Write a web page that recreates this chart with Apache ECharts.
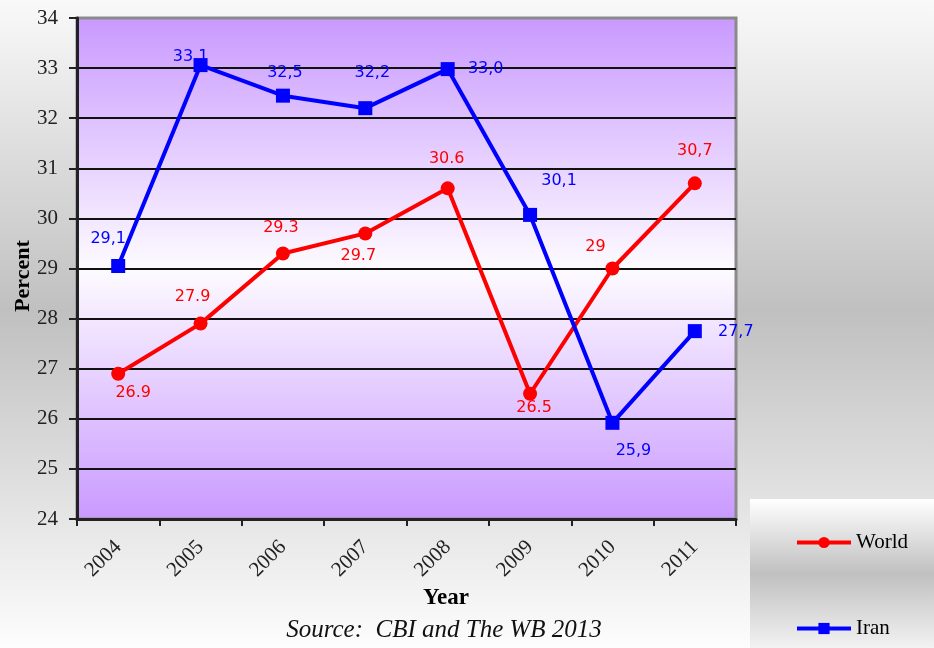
<!DOCTYPE html>
<html>
<head>
<meta charset="utf-8">
<script src="https://cdn.jsdelivr.net/npm/echarts@6/dist/echarts.min.js"></script>
<style>
  html, body { margin: 0; padding: 0; }
  #chart { width: 934px; height: 648px; }
</style>
</head>
<body>
<div id="chart"></div>
<script>
const categories = ['2004', '2005', '2006', '2007', '2008', '2009', '2010', '2011'];
const worldValues = [26.9, 27.9, 29.3, 29.7, 30.6, 26.5, 29.0, 30.7];
const iranValues = [29.05, 33.06, 32.45, 32.2, 32.98, 30.07, 25.92, 27.75];
const worldLabels = ['26.9', '27.9', '29.3', '29.7', '30.6', '26.5', '29', '30,7'];
const iranLabels = ['29,1', '33,1', '32,5', '32,2', '33,0', '30,1', '25,9', '27,7'];
const yTicks = { min: 24, max: 34, interval: 1 };

// label placement (style only)
const worldLabelOffsets = [[15, 19], [-8, -27], [-2, -26], [-7, 22], [-1, -29], [4, 14], [-17, -22], [0, -32]];
const iranLabelOffsets = [[-10, -27], [-10, -8], [2, -23], [7, -35], [38, 0], [29, -34], [21, 28], [41, 1]];

const serif = "'Liberation Serif', 'DejaVu Serif', serif";
const sans = "'DejaVu Sans', sans-serif";

function items(values, offsets) {
  return values.map((v, i) => ({ value: v, label: { offset: offsets[i] } }));
}

// split line colours: black grid lines, grey at the top edge
const tickCount = Math.round((yTicks.max - yTicks.min) / yTicks.interval) + 1;
const splitColors = Array.from({ length: tickCount }, (_, i) => (i === tickCount - 1 ? '#8a8a8a' : '#111'));

const chart = echarts.init(document.getElementById('chart'), null, { renderer: 'canvas' });

chart.setOption({
  animation: false,
  backgroundColor: {
    type: 'linear', x: 0, y: 0, x2: 0, y2: 1,
    colorStops: [
      { offset: 0, color: '#f9f9f9' },
      { offset: 0.48, color: '#c0c0c0' },
      { offset: 1, color: '#fdfdfd' }
    ]
  },
  grid: {
    left: 77, right: 198, top: 18, bottom: 129,
    show: true,
    borderColor: '#8a8a8a',
    borderWidth: 3,
    backgroundColor: {
      type: 'linear', x: 0, y: 0, x2: 0, y2: 1,
      colorStops: [
        { offset: 0, color: '#c999ff' },
        { offset: 0.5, color: '#fdfbff' },
        { offset: 1, color: '#c999ff' }
      ]
    }
  },
  graphic: [
    {
      type: 'rect', left: 750, top: 499, z: 0,
      shape: { width: 184, height: 149 },
      style: {
        fill: {
          type: 'linear', x: 0, y: 0, x2: 0, y2: 1,
          colorStops: [
            { offset: 0, color: '#ffffff' },
            { offset: 0.5, color: '#c0c0c0' },
            { offset: 1, color: '#f2f2f2' }
          ]
        }
      }
    },
    {
      type: 'text', x: 446, y: 598, z: 10,
      style: { text: 'Year', font: "bold 23px " + serif, fill: '#000', align: 'center', verticalAlign: 'middle' }
    },
    {
      type: 'text', x: 444, y: 630, z: 10,
      style: { text: 'Source:  CBI and The WB 2013', font: "italic 25px " + serif, fill: '#111', align: 'center', verticalAlign: 'middle' }
    },
    {
      type: 'text', x: 23, y: 276, rotation: Math.PI / 2, z: 10,
      style: { text: 'Percent', font: "bold 22px " + serif, fill: '#000', align: 'center', verticalAlign: 'middle' }
    }
  ],
  legend: {
    orient: 'vertical',
    left: 790,
    top: 527,
    itemWidth: 54,
    itemHeight: 14,
    itemGap: 65,
    lineStyle: { width: 4 },
    textStyle: { fontFamily: serif, fontSize: 21, color: '#000' },
    data: ['World', 'Iran']
  },
  xAxis: {
    type: 'category',
    data: categories,
    boundaryGap: true,
    axisLine: { lineStyle: { color: '#222', width: 3 } },
    axisTick: { show: true, length: 7, lineStyle: { color: '#222', width: 2 } },
    axisLabel: { rotate: 45, margin: 25, fontFamily: serif, fontSize: 21, color: '#222', interval: 0 },
    splitLine: { show: false }
  },
  yAxis: {
    type: 'value',
    min: yTicks.min, max: yTicks.max, interval: yTicks.interval,
    axisLine: { show: true, lineStyle: { color: '#222', width: 3 } },
    axisTick: { show: true, length: 8, lineStyle: { color: '#222', width: 2 } },
    axisLabel: { margin: 19, fontFamily: serif, fontSize: 21, color: '#222' },
    splitLine: { show: true, lineStyle: { color: splitColors, width: 2 } }
  },
  series: [
    {
      name: 'World',
      type: 'line',
      data: items(worldValues, worldLabelOffsets),
      symbol: 'circle',
      symbolSize: 14,
      lineStyle: { color: '#ff0000', width: 4 },
      itemStyle: { color: '#ff0000' },
      label: {
        show: true, position: 'inside', color: '#ff0000',
        fontFamily: sans, fontSize: 16,
        formatter: p => worldLabels[p.dataIndex]
      },
      z: 3
    },
    {
      name: 'Iran',
      type: 'line',
      data: items(iranValues, iranLabelOffsets),
      symbol: 'rect',
      symbolSize: 14,
      lineStyle: { color: '#0000ff', width: 4 },
      itemStyle: { color: '#0000ff' },
      label: {
        show: true, position: 'inside', color: '#0000ff',
        fontFamily: sans, fontSize: 16,
        formatter: p => iranLabels[p.dataIndex]
      },
      z: 4
    }
  ]
});
</script>
</body>
</html>
